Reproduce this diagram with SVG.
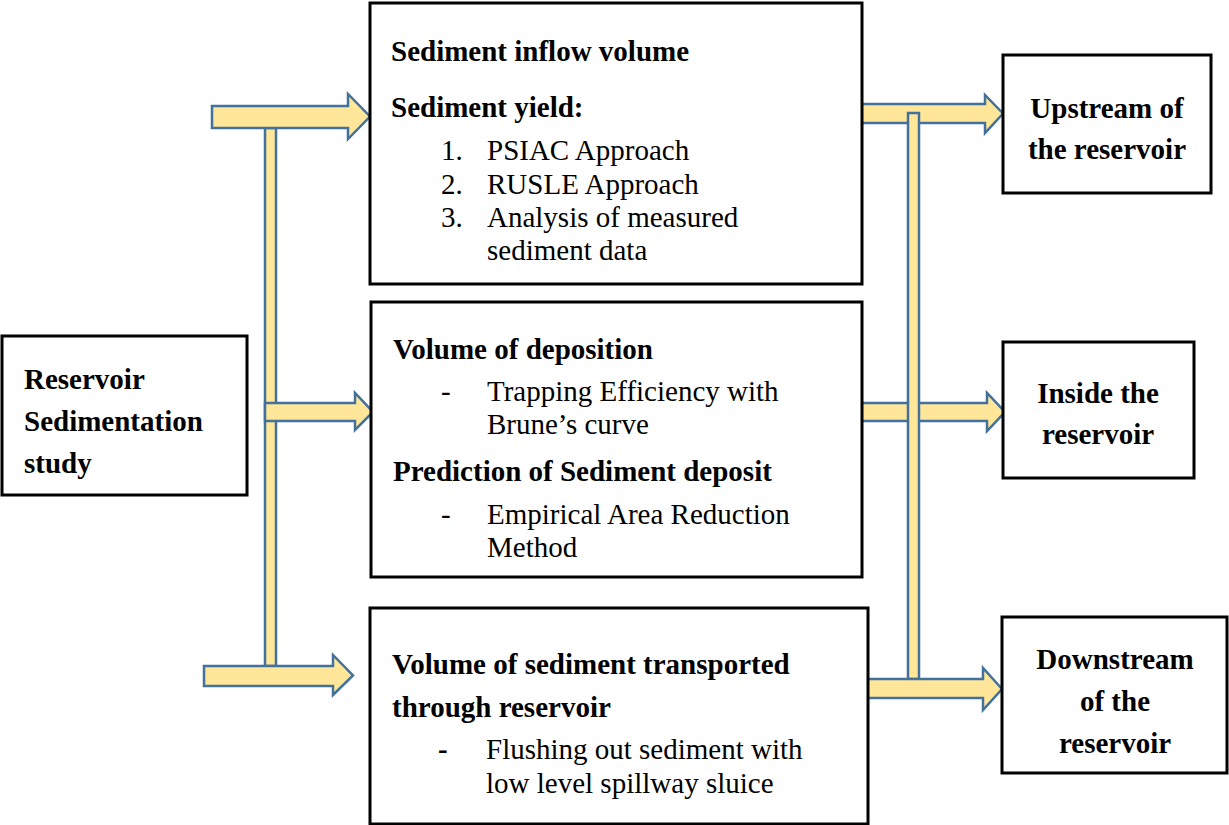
<svg xmlns="http://www.w3.org/2000/svg" width="1229" height="825" viewBox="0 0 1229 825">
<style>
.box{fill:#fff;stroke:#000;stroke-width:3}
.arr{fill:#FFE699;stroke:#41719C;stroke-width:2.5;stroke-linejoin:miter}
text{font-family:"Liberation Serif","Times New Roman",serif;font-size:29px;fill:#000}
.b{font-weight:bold}
.c{text-anchor:middle}
</style>
<rect width="1229" height="825" fill="#fff"/>
<g id="connectors">
<rect class="arr" x="265" y="128" width="11" height="538"/>
<polygon class="arr" points="212,106 348,106 348,94 370,116.5 348,139 348,128 212,128"/>
<polygon class="arr" points="265,403 355,403 355,393 373,412 355,430 355,421 265,421"/>
<polygon class="arr" points="204,666 333,666 333,655 353,675.5 333,695 333,686 204,686"/>
<polygon class="arr" points="861,104 985,104 985,95 1003,113.5 985,133 985,123 861,123"/>
<polygon class="arr" points="861,403 987,403 987,393 1005,412 987,431 987,421 861,421"/>
<rect class="arr" x="908" y="113" width="11" height="566"/>
<polygon class="arr" points="867,679 983,679 983,668 1002,689 983,710 983,698 867,698"/>
</g>
<g id="study">
<rect class="box" x="2" y="336" width="245" height="159"/>
<text class="b" x="24" y="389">Reservoir</text>
<text class="b" x="24" y="431">Sedimentation</text>
<text class="b" x="24" y="473">study</text>
</g>
<g id="inflow">
<rect class="box" x="370" y="3" width="492" height="281"/>
<text class="b" x="391" y="61">Sediment inflow volume</text>
<text class="b" x="391" y="117">Sediment yield:</text>
<text x="441" y="160">1.</text><text x="487" y="160">PSIAC Approach</text>
<text x="441" y="194">2.</text><text x="487" y="194">RUSLE Approach</text>
<text x="441" y="227">3.</text><text x="487" y="227">Analysis of measured</text>
<text x="487" y="260">sediment data</text>
</g>
<g id="deposition">
<rect class="box" x="371" y="302" width="491" height="275"/>
<text class="b" x="393" y="359">Volume of deposition</text>
<text x="441" y="401">-</text><text x="487" y="401">Trapping Efficiency with</text>
<text x="487" y="434">Brune’s curve</text>
<text class="b" x="393" y="481">Prediction of Sediment deposit</text>
<text x="441" y="524">-</text><text x="487" y="524">Empirical Area Reduction</text>
<text x="487" y="557">Method</text>
</g>
<g id="transport">
<rect class="box" x="370" y="608" width="498" height="216"/>
<text class="b" x="392" y="674">Volume of sediment transported</text>
<text class="b" x="392" y="717">through reservoir</text>
<text class="b" x="438" y="759">-</text><text x="486" y="759">Flushing out sediment with</text>
<text x="486" y="793">low level spillway sluice</text>
</g>
<g id="upstream">
<rect class="box" x="1003" y="55" width="208" height="138"/>
<text class="b c" x="1107" y="118">Upstream of</text>
<text class="b c" x="1107" y="159">the reservoir</text>
</g>
<g id="inside">
<rect class="box" x="1003" y="342" width="191" height="136"/>
<text class="b c" x="1098" y="403">Inside the</text>
<text class="b c" x="1098" y="444">reservoir</text>
</g>
<g id="downstream">
<rect class="box" x="1002" y="617" width="225" height="156"/>
<text class="b c" x="1115" y="669">Downstream</text>
<text class="b c" x="1115" y="711">of the</text>
<text class="b c" x="1115" y="753">reservoir</text>
</g>
</svg>
